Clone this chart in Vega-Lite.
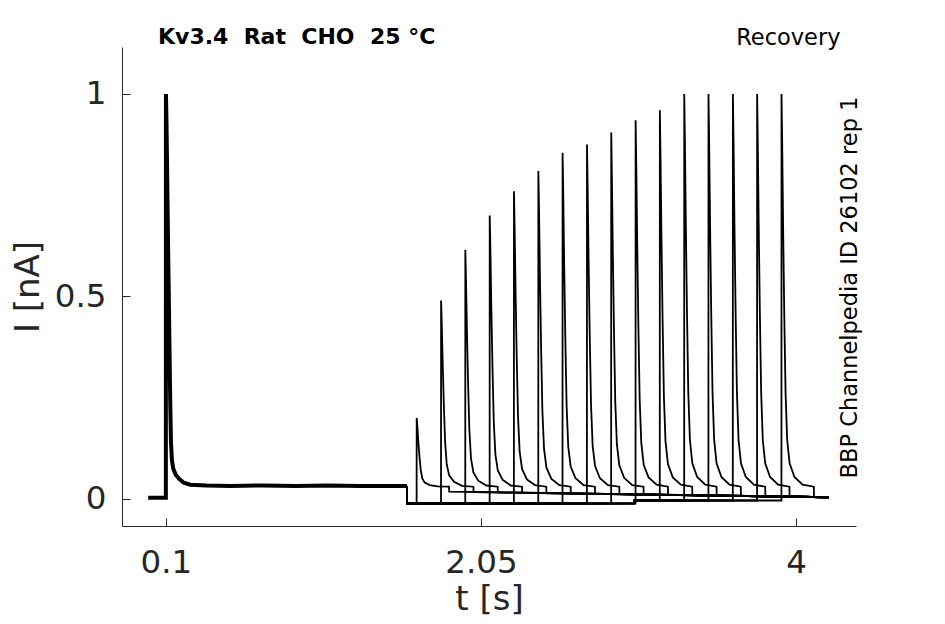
{
  "$schema": "https://vega.github.io/schema/vega-lite/v6.json",
  "width": 734,
  "height": 479,
  "autosize": "none",
  "padding": {"left": 122, "top": 47, "right": 89, "bottom": 98},
  "background": "white",
  "title": {
    "text": "Kv3.4\u00a0 Rat\u00a0 CHO\u00a0 25 °C",
    "anchor": "start",
    "frame": "group",
    "font": "DejaVu Sans",
    "fontSize": 22,
    "fontWeight": "bold",
    "color": "black",
    "dx": 36,
    "dy": 27,
    "offset": 4
  },
  "config": {
    "view": {"stroke": null},
    "axis": {
      "grid": false,
      "labelFont": "DejaVu Sans",
      "titleFont": "DejaVu Sans",
      "labelColor": "#262626",
      "titleColor": "#262626",
      "domainColor": "#262626",
      "tickColor": "#262626",
      "labelFontSize": 32.5,
      "titleFontSize": 34,
      "titleFontWeight": "normal"
    }
  },
  "datasets": {
    "cond": [
      {"t": -0.01, "i": 0.003}, {"t": 0.0995, "i": 0.003}, {"t": 0.1, "i": 1.0},
      {"t": 0.103, "i": 0.94}, {"t": 0.107, "i": 0.82}, {"t": 0.112, "i": 0.66},
      {"t": 0.117, "i": 0.52}, {"t": 0.122, "i": 0.37}, {"t": 0.127, "i": 0.23},
      {"t": 0.131, "i": 0.14}, {"t": 0.137, "i": 0.095}, {"t": 0.145, "i": 0.075},
      {"t": 0.16, "i": 0.06}, {"t": 0.18, "i": 0.05}, {"t": 0.21, "i": 0.04},
      {"t": 0.25, "i": 0.035}, {"t": 0.35, "i": 0.033}, {"t": 0.5, "i": 0.032},
      {"t": 0.7, "i": 0.033}, {"t": 0.9, "i": 0.032}, {"t": 1.1, "i": 0.033},
      {"t": 1.3, "i": 0.032}, {"t": 1.5, "i": 0.032}, {"t": 1.592, "i": 0.032}
    ],
    "test": [
      {"s": 1, "t": 1.592, "i": 0.032}, {"s": 1, "t": 1.5925, "i": -0.012}, {"s": 1, "t": 1.6515, "i": -0.011},
      {"s": 1, "t": 1.652, "i": 0.2}, {"s": 1, "t": 1.656, "i": 0.18}, {"s": 1, "t": 1.662, "i": 0.142},
      {"s": 1, "t": 1.669, "i": 0.105}, {"s": 1, "t": 1.677, "i": 0.071}, {"s": 1, "t": 1.687, "i": 0.05},
      {"s": 1, "t": 1.702, "i": 0.04}, {"s": 1, "t": 1.732, "i": 0.034}, {"s": 1, "t": 1.782, "i": 0.031},
      {"s": 1, "t": 1.852, "i": 0.03}, {"s": 1, "t": 1.853, "i": 0.018}, {"s": 1, "t": 4.2, "i": 0.004},

      {"s": 2, "t": 1.592, "i": 0.032}, {"s": 2, "t": 1.5925, "i": -0.012}, {"s": 2, "t": 1.8025, "i": -0.011},
      {"s": 2, "t": 1.803, "i": 0.49}, {"s": 2, "t": 1.807, "i": 0.435}, {"s": 2, "t": 1.813, "i": 0.334},
      {"s": 2, "t": 1.82, "i": 0.232}, {"s": 2, "t": 1.828, "i": 0.14}, {"s": 2, "t": 1.838, "i": 0.085},
      {"s": 2, "t": 1.853, "i": 0.058}, {"s": 2, "t": 1.883, "i": 0.042}, {"s": 2, "t": 1.933, "i": 0.032},
      {"s": 2, "t": 2.003, "i": 0.03}, {"s": 2, "t": 2.004, "i": 0.017}, {"s": 2, "t": 4.2, "i": 0.004},

      {"s": 3, "t": 1.592, "i": 0.032}, {"s": 3, "t": 1.5925, "i": -0.012}, {"s": 3, "t": 1.9525, "i": -0.011},
      {"s": 3, "t": 1.953, "i": 0.615}, {"s": 3, "t": 1.957, "i": 0.545}, {"s": 3, "t": 1.963, "i": 0.416},
      {"s": 3, "t": 1.97, "i": 0.287}, {"s": 3, "t": 1.978, "i": 0.17}, {"s": 3, "t": 1.988, "i": 0.1},
      {"s": 3, "t": 2.003, "i": 0.065}, {"s": 3, "t": 2.033, "i": 0.045}, {"s": 3, "t": 2.083, "i": 0.033},
      {"s": 3, "t": 2.153, "i": 0.03}, {"s": 3, "t": 2.154, "i": 0.016}, {"s": 3, "t": 4.2, "i": 0.004},

      {"s": 4, "t": 1.592, "i": 0.032}, {"s": 4, "t": 1.5925, "i": -0.012}, {"s": 4, "t": 2.1035, "i": -0.011},
      {"s": 4, "t": 2.104, "i": 0.7}, {"s": 4, "t": 2.108, "i": 0.62}, {"s": 4, "t": 2.114, "i": 0.472},
      {"s": 4, "t": 2.121, "i": 0.325}, {"s": 4, "t": 2.129, "i": 0.191}, {"s": 4, "t": 2.139, "i": 0.11},
      {"s": 4, "t": 2.154, "i": 0.07}, {"s": 4, "t": 2.184, "i": 0.047}, {"s": 4, "t": 2.234, "i": 0.033},
      {"s": 4, "t": 2.304, "i": 0.03}, {"s": 4, "t": 2.305, "i": 0.015}, {"s": 4, "t": 4.2, "i": 0.004},

      {"s": 5, "t": 1.592, "i": 0.032}, {"s": 5, "t": 1.5925, "i": -0.012}, {"s": 5, "t": 2.2535, "i": -0.011},
      {"s": 5, "t": 2.254, "i": 0.76}, {"s": 5, "t": 2.258, "i": 0.672}, {"s": 5, "t": 2.264, "i": 0.512},
      {"s": 5, "t": 2.271, "i": 0.351}, {"s": 5, "t": 2.279, "i": 0.205}, {"s": 5, "t": 2.289, "i": 0.118},
      {"s": 5, "t": 2.304, "i": 0.074}, {"s": 5, "t": 2.334, "i": 0.048}, {"s": 5, "t": 2.384, "i": 0.034},
      {"s": 5, "t": 2.454, "i": 0.03}, {"s": 5, "t": 2.455, "i": 0.0145}, {"s": 5, "t": 4.2, "i": 0.004},

      {"s": 6, "t": 1.592, "i": 0.032}, {"s": 6, "t": 1.5925, "i": -0.012}, {"s": 6, "t": 2.4045, "i": -0.011},
      {"s": 6, "t": 2.405, "i": 0.81}, {"s": 6, "t": 2.409, "i": 0.716}, {"s": 6, "t": 2.415, "i": 0.545},
      {"s": 6, "t": 2.422, "i": 0.373}, {"s": 6, "t": 2.43, "i": 0.217}, {"s": 6, "t": 2.44, "i": 0.124},
      {"s": 6, "t": 2.455, "i": 0.077}, {"s": 6, "t": 2.485, "i": 0.05}, {"s": 6, "t": 2.535, "i": 0.034},
      {"s": 6, "t": 2.605, "i": 0.03}, {"s": 6, "t": 2.606, "i": 0.0136}, {"s": 6, "t": 4.2, "i": 0.004},

      {"s": 7, "t": 1.592, "i": 0.032}, {"s": 7, "t": 1.5925, "i": -0.012}, {"s": 7, "t": 2.5545, "i": -0.011},
      {"s": 7, "t": 2.555, "i": 0.855}, {"s": 7, "t": 2.559, "i": 0.756}, {"s": 7, "t": 2.565, "i": 0.575},
      {"s": 7, "t": 2.572, "i": 0.393}, {"s": 7, "t": 2.58, "i": 0.228}, {"s": 7, "t": 2.59, "i": 0.129},
      {"s": 7, "t": 2.605, "i": 0.08}, {"s": 7, "t": 2.635, "i": 0.051}, {"s": 7, "t": 2.685, "i": 0.034},
      {"s": 7, "t": 2.755, "i": 0.03}, {"s": 7, "t": 2.756, "i": 0.0128}, {"s": 7, "t": 4.2, "i": 0.004},

      {"s": 8, "t": 1.592, "i": 0.032}, {"s": 8, "t": 1.5925, "i": -0.012}, {"s": 8, "t": 2.7055, "i": -0.011},
      {"s": 8, "t": 2.706, "i": 0.875}, {"s": 8, "t": 2.71, "i": 0.774}, {"s": 8, "t": 2.716, "i": 0.588},
      {"s": 8, "t": 2.723, "i": 0.402}, {"s": 8, "t": 2.731, "i": 0.233}, {"s": 8, "t": 2.741, "i": 0.131},
      {"s": 8, "t": 2.756, "i": 0.081}, {"s": 8, "t": 2.786, "i": 0.051}, {"s": 8, "t": 2.836, "i": 0.034},
      {"s": 8, "t": 2.906, "i": 0.03}, {"s": 8, "t": 2.907, "i": 0.0119}, {"s": 8, "t": 4.2, "i": 0.004},

      {"s": 9, "t": 1.592, "i": 0.032}, {"s": 9, "t": 1.5925, "i": -0.012}, {"s": 9, "t": 2.8555, "i": -0.011},
      {"s": 9, "t": 2.856, "i": 0.905}, {"s": 9, "t": 2.86, "i": 0.8}, {"s": 9, "t": 2.866, "i": 0.608},
      {"s": 9, "t": 2.873, "i": 0.415}, {"s": 9, "t": 2.881, "i": 0.24}, {"s": 9, "t": 2.891, "i": 0.135},
      {"s": 9, "t": 2.906, "i": 0.083}, {"s": 9, "t": 2.936, "i": 0.052}, {"s": 9, "t": 2.986, "i": 0.034},
      {"s": 9, "t": 3.056, "i": 0.03}, {"s": 9, "t": 3.057, "i": 0.011}, {"s": 9, "t": 4.2, "i": 0.004},

      {"s": 10, "t": 1.592, "i": 0.032}, {"s": 10, "t": 1.5925, "i": -0.012}, {"s": 10, "t": 3.0065, "i": -0.011},
      {"s": 10, "t": 3.007, "i": 0.935}, {"s": 10, "t": 3.011, "i": 0.826}, {"s": 10, "t": 3.017, "i": 0.627},
      {"s": 10, "t": 3.024, "i": 0.428}, {"s": 10, "t": 3.032, "i": 0.247}, {"s": 10, "t": 3.042, "i": 0.139},
      {"s": 10, "t": 3.057, "i": 0.084}, {"s": 10, "t": 3.087, "i": 0.053}, {"s": 10, "t": 3.137, "i": 0.035},
      {"s": 10, "t": 3.207, "i": 0.03}, {"s": 10, "t": 3.208, "i": 0.0101}, {"s": 10, "t": 4.2, "i": 0.004},

      {"s": 11, "t": 1.592, "i": 0.032}, {"s": 11, "t": 1.5925, "i": -0.012}, {"s": 11, "t": 3.0, "i": -0.011},
      {"s": 11, "t": 3.0005, "i": -0.004}, {"s": 11, "t": 3.1565, "i": -0.004},
      {"s": 11, "t": 3.157, "i": 0.96}, {"s": 11, "t": 3.161, "i": 0.848}, {"s": 11, "t": 3.167, "i": 0.644},
      {"s": 11, "t": 3.174, "i": 0.439}, {"s": 11, "t": 3.182, "i": 0.253}, {"s": 11, "t": 3.192, "i": 0.142},
      {"s": 11, "t": 3.207, "i": 0.086}, {"s": 11, "t": 3.237, "i": 0.053}, {"s": 11, "t": 3.287, "i": 0.035},
      {"s": 11, "t": 3.357, "i": 0.03}, {"s": 11, "t": 3.358, "i": 0.0093}, {"s": 11, "t": 4.2, "i": 0.004},

      {"s": 12, "t": 1.592, "i": 0.032}, {"s": 12, "t": 1.5925, "i": -0.012}, {"s": 12, "t": 3.0, "i": -0.011},
      {"s": 12, "t": 3.0005, "i": -0.004}, {"s": 12, "t": 3.3075, "i": -0.004},
      {"s": 12, "t": 3.308, "i": 1.0}, {"s": 12, "t": 3.312, "i": 0.884}, {"s": 12, "t": 3.318, "i": 0.67},
      {"s": 12, "t": 3.325, "i": 0.457}, {"s": 12, "t": 3.333, "i": 0.263}, {"s": 12, "t": 3.343, "i": 0.146},
      {"s": 12, "t": 3.358, "i": 0.088}, {"s": 12, "t": 3.388, "i": 0.054}, {"s": 12, "t": 3.438, "i": 0.035},
      {"s": 12, "t": 3.508, "i": 0.03}, {"s": 12, "t": 3.509, "i": 0.0084}, {"s": 12, "t": 4.2, "i": 0.004},

      {"s": 13, "t": 1.592, "i": 0.032}, {"s": 13, "t": 1.5925, "i": -0.012}, {"s": 13, "t": 3.0, "i": -0.011},
      {"s": 13, "t": 3.0005, "i": -0.004}, {"s": 13, "t": 3.4575, "i": -0.004},
      {"s": 13, "t": 3.458, "i": 1.0}, {"s": 13, "t": 3.462, "i": 0.884}, {"s": 13, "t": 3.468, "i": 0.67},
      {"s": 13, "t": 3.475, "i": 0.457}, {"s": 13, "t": 3.483, "i": 0.263}, {"s": 13, "t": 3.493, "i": 0.146},
      {"s": 13, "t": 3.508, "i": 0.088}, {"s": 13, "t": 3.538, "i": 0.054}, {"s": 13, "t": 3.588, "i": 0.035},
      {"s": 13, "t": 3.658, "i": 0.03}, {"s": 13, "t": 3.659, "i": 0.0075}, {"s": 13, "t": 4.2, "i": 0.004},

      {"s": 14, "t": 1.592, "i": 0.032}, {"s": 14, "t": 1.5925, "i": -0.012}, {"s": 14, "t": 3.0, "i": -0.011},
      {"s": 14, "t": 3.0005, "i": -0.004}, {"s": 14, "t": 3.6085, "i": -0.004},
      {"s": 14, "t": 3.609, "i": 1.0}, {"s": 14, "t": 3.613, "i": 0.884}, {"s": 14, "t": 3.619, "i": 0.67},
      {"s": 14, "t": 3.626, "i": 0.457}, {"s": 14, "t": 3.634, "i": 0.263}, {"s": 14, "t": 3.644, "i": 0.146},
      {"s": 14, "t": 3.659, "i": 0.088}, {"s": 14, "t": 3.689, "i": 0.054}, {"s": 14, "t": 3.739, "i": 0.035},
      {"s": 14, "t": 3.809, "i": 0.03}, {"s": 14, "t": 3.81, "i": 0.0066}, {"s": 14, "t": 4.2, "i": 0.004},

      {"s": 15, "t": 1.592, "i": 0.032}, {"s": 15, "t": 1.5925, "i": -0.012}, {"s": 15, "t": 3.0, "i": -0.011},
      {"s": 15, "t": 3.0005, "i": -0.004}, {"s": 15, "t": 3.7585, "i": -0.004},
      {"s": 15, "t": 3.759, "i": 1.0}, {"s": 15, "t": 3.763, "i": 0.884}, {"s": 15, "t": 3.769, "i": 0.67},
      {"s": 15, "t": 3.776, "i": 0.457}, {"s": 15, "t": 3.784, "i": 0.263}, {"s": 15, "t": 3.794, "i": 0.146},
      {"s": 15, "t": 3.809, "i": 0.088}, {"s": 15, "t": 3.839, "i": 0.054}, {"s": 15, "t": 3.889, "i": 0.035},
      {"s": 15, "t": 3.959, "i": 0.03}, {"s": 15, "t": 3.96, "i": 0.0058}, {"s": 15, "t": 4.2, "i": 0.004},

      {"s": 16, "t": 1.592, "i": 0.032}, {"s": 16, "t": 1.5925, "i": -0.012}, {"s": 16, "t": 3.0, "i": -0.011},
      {"s": 16, "t": 3.0005, "i": -0.004}, {"s": 16, "t": 3.9095, "i": -0.004},
      {"s": 16, "t": 3.91, "i": 1.0}, {"s": 16, "t": 3.914, "i": 0.884}, {"s": 16, "t": 3.92, "i": 0.67},
      {"s": 16, "t": 3.927, "i": 0.457}, {"s": 16, "t": 3.935, "i": 0.263}, {"s": 16, "t": 3.945, "i": 0.146},
      {"s": 16, "t": 3.96, "i": 0.088}, {"s": 16, "t": 3.99, "i": 0.054}, {"s": 16, "t": 4.04, "i": 0.035},
      {"s": 16, "t": 4.11, "i": 0.03}, {"s": 16, "t": 4.111, "i": 0.0049}, {"s": 16, "t": 4.2, "i": 0.004}
    ]
  },
  "layer": [
    {
      "data": {"name": "cond"},
      "mark": {"type": "line", "color": "black", "strokeWidth": 4},
      "encoding": {
        "x": {
          "field": "t", "type": "quantitative",
          "scale": {"domain": [-0.172, 4.371], "nice": false, "zero": false},
          "axis": {
            "orient": "bottom", "title": "t [s]", "values": [0.1, 2.05, 4],
            "labelExpr": "'' + datum.value",
            "tickSize": -8, "labelPadding": 28, "titlePadding": 4
          }
        },
        "y": {
          "field": "i", "type": "quantitative",
          "scale": {"domain": [-0.067, 1.116], "nice": false, "zero": false},
          "axis": {
            "orient": "left", "title": "I [nA]", "values": [0, 0.5, 1],
            "labelExpr": "'' + datum.value",
            "tickSize": -8, "labelPadding": 24, "titlePadding": 9
          }
        }
      }
    },
    {
      "data": {"name": "test"},
      "mark": {"type": "line", "color": "black", "strokeWidth": 1.8},
      "encoding": {
        "x": {
          "field": "t", "type": "quantitative",
          "axis": {
            "orient": "top", "title": "Recovery", "labels": false, "ticks": false, "domain": false,
            "titleFontSize": 22.5, "titleColor": "black", "titleAnchor": null, "titleAlign": "right",
            "titleX": 718, "titleY": -3, "titleBaseline": "alphabetic"
          }
        },
        "y": {
          "field": "i", "type": "quantitative",
          "axis": {
            "orient": "right", "title": "BBP Channelpedia ID 26102 rep 1", "labels": false, "ticks": false, "domain": false,
            "titleFontSize": 22.5, "titleColor": "black", "titleAngle": 270, "titleAnchor": null,
            "titleX": -7, "titleY": 240, "titleAlign": "center", "titleBaseline": "middle"
          }
        },
        "detail": {"field": "s", "type": "nominal"}
      }
    }
  ],
  "resolve": {"axis": {"x": "independent", "y": "independent"}}
}
